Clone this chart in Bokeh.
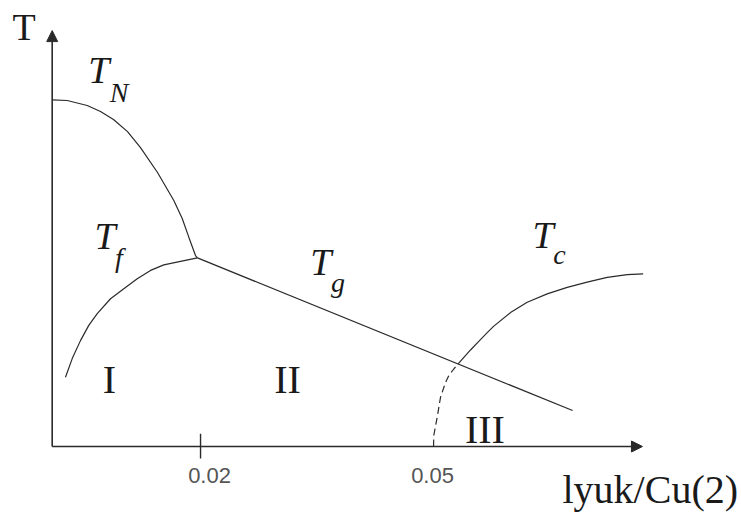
from bokeh.plotting import figure
from bokeh.models import Range1d, Arrow, NormalHead, Label
from bokeh.embed import file_html
from bokeh.resources import INLINE

# ---- phase boundaries: hole concentration per Cu(2) vs temperature (arb. units) ----
tn_x = [0.0009, 0.00283, 0.00541, 0.00712, 0.00879, 0.0106, 0.01227, 0.01446,
        0.01656, 0.01764, 0.01849, 0.01935, 0.0196]
tn_T = [100.2, 100.0, 98.55, 96.8, 94.5, 91.0, 86.4, 79.2,
        71.1, 65.9, 60.5, 55.2, 54.5]

tf_x = [0.00261, 0.00348, 0.00454, 0.00561, 0.0067, 0.00841, 0.01012, 0.01185,
        0.01356, 0.01527, 0.01742, 0.0196]
tf_T = [20.0, 25.4, 30.6, 35.0, 38.4, 42.7, 45.6, 48.5,
        50.9, 52.5, 53.5, 54.5]

tg_x = [0.0196, 0.0679]
tg_T = [54.5, 10.4]

# superconducting dome: dashed below the spin-glass line, solid above
tc_dash_x = [0.05, 0.05003, 0.05047, 0.0509, 0.05154, 0.05196, 0.05261, 0.05325]
tc_dash_T = [0.0, 3.18, 8.47, 14.25, 18.5, 20.5, 22.4, 24.1]
tc_x = [0.05325, 0.05399, 0.05476, 0.05579, 0.05691, 0.05776, 0.05991, 0.06206,
        0.06463, 0.06721, 0.06978, 0.07236, 0.07493, 0.07699]
tc_T = [24.1, 26.0, 27.9, 30.3, 32.9, 34.8, 38.7, 41.7,
        44.1, 46.0, 47.5, 48.9, 49.7, 49.9]

tick_values = [0.02, 0.05]
tick_labels = ["0.02", "0.05"]
tick_marks = [0.02]

x0, T0 = 0.0009, 0.0        # origin of the drawn axes
x_end, T_end = 0.0769, 120.2  # arrow tips

ink = "#2a2a2a"

p = figure(width=741, height=514,
           x_range=Range1d(-0.005755, 0.089649),
           y_range=Range1d(-19.653, 128.902),
           x_axis_type=None, y_axis_type=None,
           output_backend="svg", toolbar_location=None, min_border=0)
p.grid.visible = False
p.outline_line_color = None
p.background_fill_color = "white"
p.border_fill_color = "white"

# axes with arrow heads
p.add_layout(Arrow(x_start=x0, y_start=T0, x_end=x0, y_end=T_end,
                   line_color=ink, line_width=1.6,
                   end=NormalHead(size=11, fill_color=ink, line_color=ink, line_width=1)))
p.add_layout(Arrow(x_start=x0, y_start=T0, x_end=x_end, y_end=T0,
                   line_color=ink, line_width=1.6,
                   end=NormalHead(size=11, fill_color=ink, line_color=ink, line_width=1)))

for tv in tick_marks:
    p.segment(x0=[tv], y0=[3.7], x1=[tv], y1=[-3.5], line_color=ink, line_width=1.4)

# boundaries
p.line(tn_x, tn_T, line_color=ink, line_width=1.2)
p.line(tf_x, tf_T, line_color=ink, line_width=1.2)
p.line(tg_x, tg_T, line_color=ink, line_width=1.2)
p.line(tc_dash_x, tc_dash_T, line_color=ink, line_width=1.2, line_dash="7 4")
p.line(tc_x, tc_T, line_color=ink, line_width=1.2)

serif = "Liberation Serif"

def lab(x, y, text, size, style="normal", align="center", font=serif, color="#1a1a1a", xo=0):
    # raise the text so that y marks its baseline
    p.add_layout(Label(x=x, y=y, text=text, text_font=font, text_font_size=f"{size}px",
                       text_font_style=style, text_align=align,
                       text_baseline="alphabetic", text_color=color,
                       x_offset=xo, y_offset=round(0.35 * size)))

# tick labels
for tv, tl, xo in zip(tick_values, tick_labels, [9, -1]):
    lab(tv, -10.7, tl, 22, font="Liberation Sans", color="#555555", xo=xo)

# axis titles
lab(-0.00273, 117.6, "T", 38)
lab(0.0666, -16.5, "lyuk/Cu(2)", 40, align="left")

# curve labels
lab(0.0069, 105.2, "T", 38, "italic")
lab(0.0095, 99.4, "N", 28, "italic")
lab(0.0077, 57.2, "T", 38, "italic")
lab(0.0095, 51.7, "f", 28, "italic")
lab(0.0355, 49.7, "T", 38, "italic")
lab(0.0377, 44.5, "g", 28, "italic")
lab(0.0641, 57.5, "T", 38, "italic")
lab(0.0662, 52.6, "c", 28, "italic")

# regions
lab(0.00828, 15.3, "I", 40)
lab(0.0312, 15.3, "II", 40)
lab(0.05662, 0.87, "III", 40)

open("out.html", "w").write(file_html(p, INLINE))
